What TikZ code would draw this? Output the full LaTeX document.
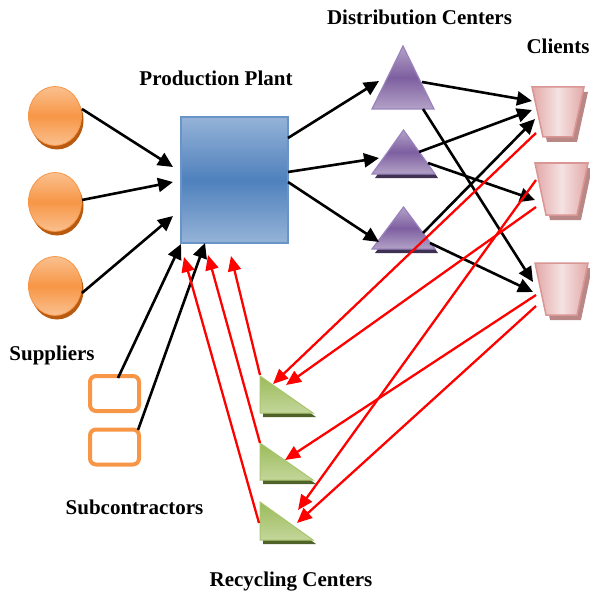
\documentclass[tikz,border=0pt]{standalone}
\usepackage{fontspec}
\setmainfont{Liberation Serif}
\usetikzlibrary{arrows.meta,shapes.geometric,shadows}
\definecolor{orgM}{HTML}{F79646}
\definecolor{orgL}{HTML}{FAC08F}
\definecolor{orgS}{HTML}{B85A10}
\definecolor{bluM}{HTML}{4F81BD}
\definecolor{bluL}{HTML}{95B3D7}
\definecolor{purM}{HTML}{7D5FA0}
\definecolor{purL}{HTML}{B3A2C7}
\definecolor{purB}{HTML}{9A82BE}
\definecolor{purS}{HTML}{3F3151}
\definecolor{pnkM}{HTML}{E2A9A8}
\definecolor{pnkL}{HTML}{F5E2E2}
\definecolor{pnkB}{HTML}{D99694}
\definecolor{pnkS}{HTML}{B98886}
\definecolor{grnM}{HTML}{9BBB59}
\definecolor{grnL}{HTML}{C3D69B}
\definecolor{grnB}{HTML}{A9C56E}
\definecolor{grnS}{HTML}{4F6228}
\definecolor{redA}{HTML}{FF0000}
\begin{document}
\begin{tikzpicture}[x=1pt,y=-1pt,
  lbl/.style={font=\fontsize{21}{25}\selectfont\bfseries, inner sep=0pt},
  hold/.style={inner sep=0pt, outer sep=0pt, draw=none},
  supp/.style={ellipse, inner sep=0pt, minimum width=53pt, minimum height=59pt,
    draw=orgM, line width=0.8pt, top color=orgL, bottom color=orgL, middle color=orgM,
    general shadow={fill=orgS, shadow xshift=2pt, shadow yshift=-4pt}},
  subbox/.style={rectangle, rounded corners=6pt, draw=orgM, line width=4pt, fill=white,
    inner sep=0pt, minimum width=49pt, minimum height=35pt},
  plantbox/.style={rectangle, inner sep=0pt, minimum width=107pt, minimum height=126pt,
    draw=bluM!85!white, line width=1.5pt, top color=bluL, bottom color=bluL, middle color=bluM},
  dcfill/.style={draw=purB, line width=1.2pt, top color=purL, bottom color=purL, middle color=purM},
  clfill/.style={draw=pnkB, line width=1.5pt, shading angle=45, left color=pnkM, right color=pnkM, middle color=pnkL},
  rcfill/.style={draw=grnB, line width=1pt, top color=grnM, bottom color=grnL},
  blk/.style={draw=black, line width=2.6pt, -{Triangle[length=15pt,width=14pt]}},
  rd/.style={draw=redA, line width=2.3pt, -{Triangle[length=15pt,width=13pt]}}
]
\useasboundingbox (0,0) rectangle (589,596);

% ---------- labels ----------
\node[lbl] (tDC) at (419.5,17) {Distribution Centers};
\node[lbl] (tCl) at (558,46) {Clients};
\node[lbl] (tPP) at (216,78) {Production Plant};
\node[lbl] (tSu) at (52,355) {Suppliers};
\node[lbl] (tSb) at (134.5,507) {Subcontractors};
\node[lbl] (tRC) at (291,582) {Recycling Centers};

% ---------- suppliers ----------
\node[supp] (s1) at (55,116) {};
\node[supp] (s2) at (55,202) {};
\node[supp] (s3) at (55,286) {};

% ---------- subcontractors ----------
\node[subbox] (b1) at (114.5,393.5) {};
\node[subbox] (b2) at (114.5,447) {};

% ---------- production plant ----------
\node[plantbox] (P) at (234.5,180) {};

% ---------- distribution centers ----------
\node[hold, minimum width=62pt, minimum height=63pt] (dc1) at (403,77.5) {};
\node[hold, minimum width=63pt, minimum height=44pt] (dc2) at (403.5,152) {};
\node[hold, minimum width=63pt, minimum height=42pt] (dc3) at (403.5,228) {};
\foreach \d in {dc2,dc3}{
  \fill[purS] ([shift={(3,4)}]\d.north) -- ([shift={(3,4)}]\d.south east) -- ([shift={(3,4)}]\d.south west) -- cycle;
}
\foreach \d in {dc1,dc2,dc3}{
  \path[dcfill] (\d.north) -- (\d.south east) -- (\d.south west) -- cycle;
}

% ---------- clients ----------
\node[hold, minimum width=52pt, minimum height=50pt] (cl1) at (558,112) {};
\node[hold, minimum width=53pt, minimum height=52pt] (cl2) at (561.5,189) {};
\node[hold, minimum width=53pt, minimum height=52pt] (cl3) at (561.5,289) {};
\foreach \c in {cl1,cl2,cl3}{
  \fill[pnkS] ([shift={(4,5)}]\c.north west) -- ([shift={(4,5)}]\c.north east)
     -- ([shift={(-7,5)}]\c.south east) -- ([shift={(15,5)}]\c.south west) -- cycle;
  \path[clfill] (\c.north west) -- (\c.north east) -- ([xshift=-11pt]\c.south east)
     -- ([xshift=11pt]\c.south west) -- cycle;
}

% ---------- recycling centers ----------
\node[hold, minimum width=53pt, minimum height=37pt] (r1) at (286.5,394.5) {};
\node[hold, minimum width=53pt, minimum height=37pt] (r2) at (286.5,461.5) {};
\node[hold, minimum width=53pt, minimum height=38pt] (r3) at (286.5,521) {};
\foreach \r in {r1,r2,r3}{
  \fill[grnS] ([shift={(3,4)}]\r.north west) -- ([shift={(3,4)}]\r.south east) -- ([shift={(3,4)}]\r.south west) -- cycle;
  \path[rcfill] (\r.north west) -- (\r.south east) -- (\r.south west) -- cycle;
}

% ---------- black flows ----------
\draw[blk] ([shift={(27,-7)}]s1.center) -- ([shift={(-61.5,-13)}]P.center);
\draw[blk] ([shift={(27,-2)}]s2.center) -- ([shift={(-61.5,2)}]P.center);
\draw[blk] ([shift={(27,7)}]s3.center) -- ([shift={(-61.5,36)}]P.center);
\draw[blk] ([shift={(3.5,-15.5)}]b1.center) -- ([shift={(-53.5,64)}]P.center);
\draw[blk] ([shift={(23.5,-17)}]b2.center) -- ([shift={(-29.5,63)}]P.center);

\draw[blk] ([shift={(53.5,-42)}]P.center) -- ([shift={(-24,3.5)}]dc1.center);
\draw[blk] ([shift={(53.5,-8)}]P.center) -- ([shift={(-24.5,6)}]dc2.center);
\draw[blk] ([shift={(53.5,2)}]P.center) -- ([shift={(-24.5,14)}]dc3.center);

\draw[blk] ([shift={(19,4.5)}]dc1.center) -- ([shift={(-26,-11)}]cl1.center);
\draw[blk] ([shift={(20,31.5)}]dc1.center) -- ([shift={(-28.5,-7)}]cl3.center);
\draw[blk] ([shift={(15.5,0)}]dc2.center) -- ([shift={(-26,-2)}]cl1.center);
\draw[blk] ([shift={(24.5,11)}]dc2.center) -- ([shift={(-26.5,11)}]cl2.center);
\draw[blk] ([shift={(19.5,5)}]dc3.center) -- ([shift={(-23,7)}]cl1.center);
\draw[blk] ([shift={(26.5,15)}]dc3.center) -- ([shift={(-28.5,3)}]cl3.center);

% ---------- red return flows ----------
\draw[rd] ([shift={(-22,21)}]cl1.center) -- ([shift={(-13.5,-10.5)}]r1.center);
\draw[rd] ([shift={(-25.5,18)}]cl2.center) -- ([shift={(-0.5,-9.5)}]r1.center);
\draw[rd] ([shift={(-25.5,-9)}]cl2.center) -- ([shift={(11.5,-11)}]r3.center);
\draw[rd] ([shift={(-25.5,6)}]cl3.center) -- ([shift={(-1.5,-1.5)}]r2.center);
\draw[rd] ([shift={(-25.5,17)}]cl3.center) -- ([shift={(10.5,2)}]r3.center);

\draw[rd] ([shift={(-26.5,-19.5)}]r1.center) -- ([shift={(-3.5,76)}]P.center);
\draw[rd] ([shift={(-26.5,-18.5)}]r2.center) -- ([shift={(-26.5,75)}]P.center);
\draw[rd] ([shift={(-27.5,2)}]r3.center) -- ([shift={(-50.5,77)}]P.center);
\end{tikzpicture}
\end{document}
